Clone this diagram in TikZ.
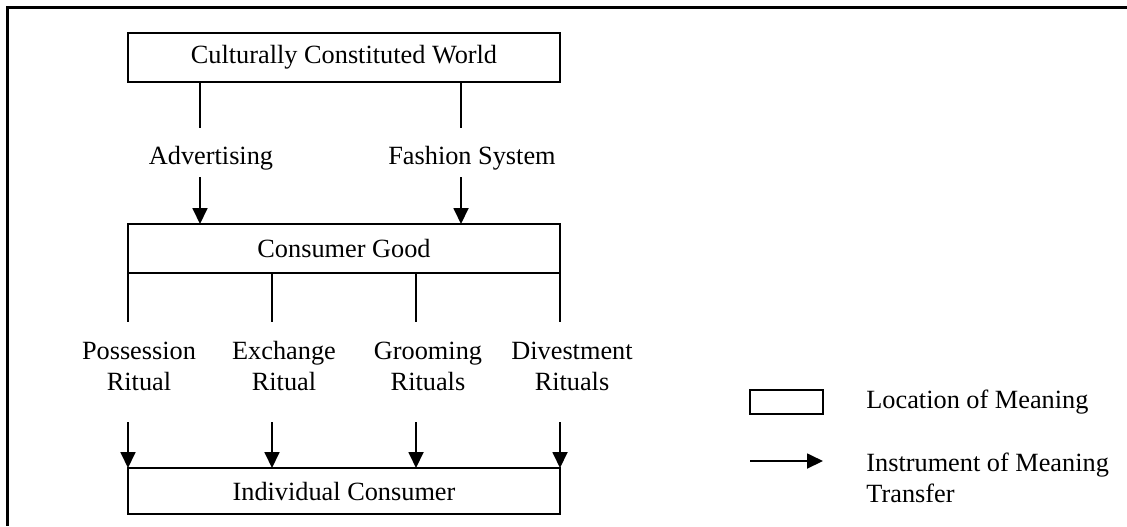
\documentclass[tikz,border=0pt]{standalone}
\usepackage{fontspec}
\setmainfont{Liberation Serif}
\usetikzlibrary{positioning, arrows.meta}

\tikzset{
  location/.style={draw, line width=0.9pt, minimum width=216pt, minimum height=24.5pt, inner sep=0pt, outer sep=0pt},
  instrument/.style={line width=0.9pt, -{Triangle[length=8pt,width=7.5pt]}},
  tie/.style={line width=0.9pt},
  ritual/.style={align=center, inner sep=0pt},
}

\begin{document}
\begin{tikzpicture}[x=0.5pt,y=-0.5pt,font=\fontsize{13.15}{15.5}\selectfont]
       \useasboundingbox (0,0) rectangle (1127,526);
       \draw[line width=1.5pt] (1127,7) -- (7,7) -- (7,526);

       % Locations of meaning
       \node[location] (world) at (344,57.5) {Culturally Constituted World};
       \node[location] (good) [below=71pt of world] {Consumer Good};
       \node[location,minimum height=23pt] (consumer) [below=97.5pt of good] {Individual Consumer};

       % From world to good
       \node[anchor=base] (adv) at (211,164) {Advertising};
       \node[anchor=base] (fash) at (472,164) {Fashion System};
       \coordinate (advtop) at (200,128);
       \coordinate (advbot) at (200,177);
       \coordinate (fashtop) at (461,128);
       \coordinate (fashbot) at (461,177);
       \draw[tie] (world.south -| advtop) -- (advtop);
       \draw[tie] (world.south -| fashtop) -- (fashtop);
       \draw[instrument] (advbot) -- (good.north -| advbot);
       \draw[instrument] (fashbot) -- (good.north -| fashbot);

       % From good to consumer
       \node[ritual] (poss) at (139,366) {Possession\\Ritual};
       \node[ritual] (exch) at (284,366) {Exchange\\Ritual};
       \node[ritual] (groom) at (428,366) {Grooming\\Rituals};
       \node[ritual] (divest) at (572,366) {Divestment\\Rituals};
       \coordinate (posstop) at (128,322);
       \coordinate (possbot) at (128,422);
       \coordinate (exchtop) at (272,322);
       \coordinate (exchbot) at (272,422);
       \coordinate (groomtop) at (416,322);
       \coordinate (groombot) at (416,422);
       \coordinate (divesttop) at (560,322);
       \coordinate (divestbot) at (560,422);
       \draw[tie] (good.south -| posstop) -- (posstop);
       \draw[tie] (good.south -| exchtop) -- (exchtop);
       \draw[tie] (good.south -| groomtop) -- (groomtop);
       \draw[tie] (good.south -| divesttop) -- (divesttop);
       \draw[instrument] (possbot) -- (consumer.north -| possbot);
       \draw[instrument] (exchbot) -- (consumer.north -| exchbot);
       \draw[instrument] (groombot) -- (consumer.north -| groombot);
       \draw[instrument] (divestbot) -- (consumer.north -| divestbot);

       % Key
       \node[location,minimum width=36.5pt,minimum height=12pt,line width=0.7pt] (keybox) at (786.5,402) {};
       \node[right=21.5pt of keybox, inner sep=0pt] (keyloc) {Location of Meaning};
       \coordinate (keytail) at (750,461);
       \coordinate (keytip) at (823,461);
       \draw[instrument] (keytail) -- (keytip);
       \node[right=21.5pt of keytip, align=left, inner sep=0pt, yshift=-8.3pt] (keyins) {Instrument of Meaning\\Transfer};
\end{tikzpicture}
\end{document}
